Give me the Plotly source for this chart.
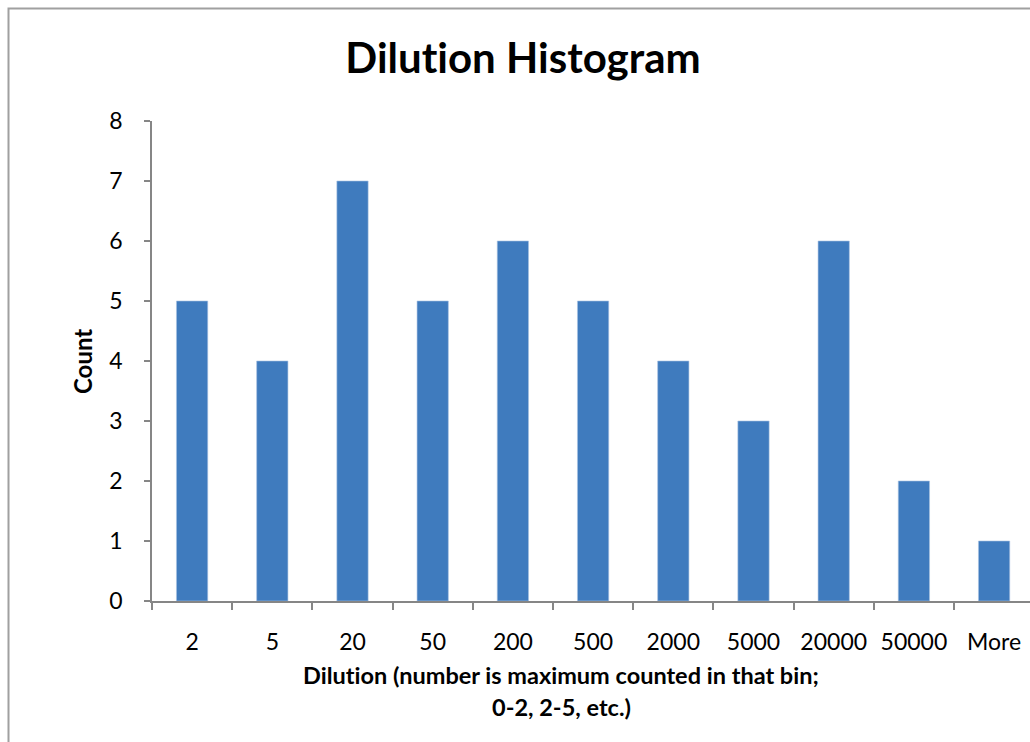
import plotly.graph_objects as go

# Histogram bins (upper bound of each bin) and counts
bins = ["2", "5", "20", "50", "200", "500", "2000", "5000", "20000", "50000", "More"]
counts = [5, 4, 7, 5, 6, 5, 4, 3, 6, 2, 1]

# U+200C keeps the "ti" pair from being drawn as a ligature
title_text = "Dilut\u200cion Histogram"
x_title_lines = ["Dilut\u200cion (number is maximum counted in that bin;", "0-2, 2-5, etc.)"]
y_title_text = "Count"

BAR_COLOR = "#3F7BBE"
AXIS_COLOR = "#868686"
FONT = "Lato, Carlito, Calibri, sans-serif"

W, H = 1030, 742
ML, MR, MT, MB = 152, 0, 121, 141
plot_w = W - ML - MR
plot_h = H - MT - MB


def px_to_paper_x(px):
    return (px - ML) / plot_w


def px_to_paper_y(py):
    return (H - MB - py) / plot_h


fig = go.Figure(
    go.Bar(
        x=bins,
        y=counts,
        marker=dict(color=BAR_COLOR, line=dict(color="#A9C2E2", width=0.6)),
        hoverinfo="x+y",
    )
)

fig.update_layout(
    width=W,
    height=H,
    margin=dict(l=ML, r=MR, t=MT, b=MB, pad=0),
    paper_bgcolor="white",
    plot_bgcolor="white",
    bargap=0.61,
    showlegend=False,
    font=dict(family=FONT, color="black"),
    title=dict(
        text="<b>%s</b>" % title_text,
        x=523 / W,
        xanchor="center",
        y=1 - 58 / H,
        yanchor="middle",
        font=dict(size=42, family=FONT, color="black"),
    ),
)

fig.update_xaxes(
    type="category",
    range=[-0.5, -0.5 + plot_w / 80.2],
    showline=True,
    linecolor=AXIS_COLOR,
    linewidth=1.5,
    showgrid=False,
    zeroline=False,
    ticks="outside",
    tickson="boundaries",
    ticklen=7,
    tickwidth=1.5,
    tickcolor=AXIS_COLOR,
    ticklabelstandoff=20,
    tickfont=dict(size=23, family=FONT, color="black"),
)

fig.update_yaxes(
    range=[0, 8],
    dtick=1,
    showline=True,
    linecolor=AXIS_COLOR,
    linewidth=1.5,
    showgrid=False,
    zeroline=False,
    ticks="outside",
    ticklen=6,
    tickwidth=1.5,
    tickcolor=AXIS_COLOR,
    ticklabelstandoff=17,
    tickfont=dict(size=23, family=FONT, color="black"),
)

annotations = [
    dict(
        text="<b>%s</b>" % x_title_lines[0],
        xref="paper", yref="paper",
        x=px_to_paper_x(561), y=px_to_paper_y(675),
        xanchor="center", yanchor="middle",
        showarrow=False,
        font=dict(size=23.5, family=FONT, color="black"),
    ),
    dict(
        text="<b>%s</b>" % x_title_lines[1],
        xref="paper", yref="paper",
        x=px_to_paper_x(561), y=px_to_paper_y(707),
        xanchor="center", yanchor="middle",
        showarrow=False,
        font=dict(size=23.5, family=FONT, color="black"),
    ),
    dict(
        text="<b>%s</b>" % y_title_text,
        xref="paper", yref="paper",
        x=px_to_paper_x(82), y=px_to_paper_y(362),
        xanchor="center", yanchor="middle",
        textangle=-90,
        showarrow=False,
        font=dict(size=24, family=FONT, color="black"),
    ),
]
fig.update_layout(annotations=annotations)

# Chart-area frame
fig.add_shape(
    type="rect",
    xref="paper", yref="paper",
    x0=px_to_paper_x(8.5), x1=px_to_paper_x(W + 10),
    y0=px_to_paper_y(H + 10), y1=px_to_paper_y(8.5),
    line=dict(color="#A0A0A0", width=2),
    fillcolor="rgba(0,0,0,0)",
    layer="below",
)

fig.write_html("out.html")
